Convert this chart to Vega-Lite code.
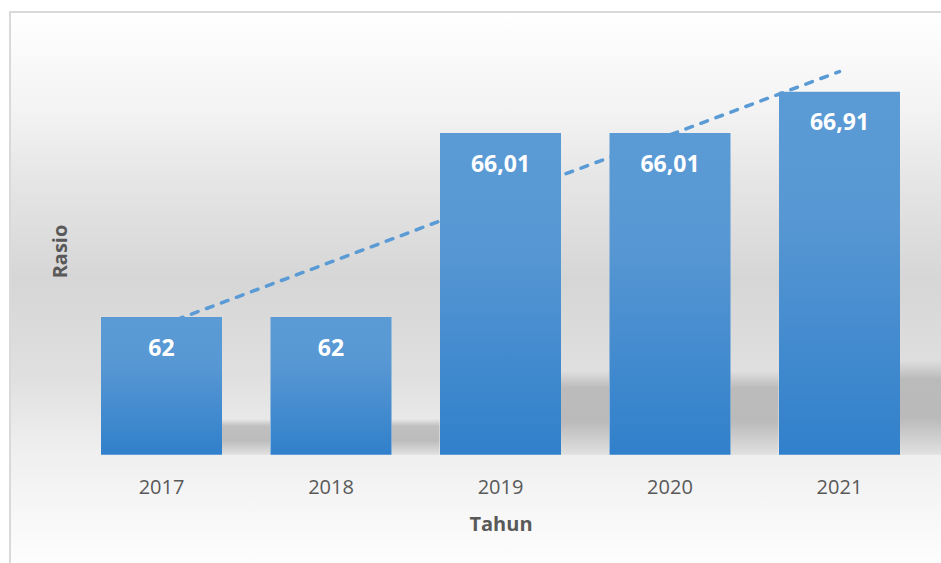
{
  "$schema": "https://vega.github.io/schema/vega-lite/v6.json",
  "width": 931,
  "height": 551,
  "autosize": {"type": "none"},
  "padding": {"left": 10, "top": 12, "right": 0, "bottom": 0},
  "background": "white",
  "config": {
    "view": {
      "stroke": "#d9d9d9", "strokeWidth": 2, "strokeDash": [931, 1482, 551, 1],
      "fill": {
        "gradient": "linear", "x1": 0, "y1": 0, "x2": 0, "y2": 1,
        "stops": [
          {"offset": 0, "color": "#ffffff"},
          {"offset": 0.18, "color": "#f3f3f3"},
          {"offset": 0.3, "color": "#e6e6e6"},
          {"offset": 0.485, "color": "#d6d6d6"},
          {"offset": 0.666, "color": "#e0e0e0"},
          {"offset": 0.786, "color": "#eeeeee"},
          {"offset": 0.907, "color": "#f7f7f7"},
          {"offset": 1, "color": "#fdfdfd"}
        ]
      }
    },
    "font": "Open Sans",
    "axisX": {
      "zindex": 1,
      "labelFont": "Open Sans", "labelFontSize": 20, "labelColor": "#595959",
      "labelPadding": 38.5, "labelBaseline": "alphabetic", "labelAngle": 0,
      "ticks": false, "domain": false, "grid": false, "offset": -108.3,
      "titleFont": "Open Sans", "titleFontSize": 20, "titleFontWeight": "bold", "titleColor": "#595959",
      "titleX": 490.5, "titleY": 75.3, "titleBaseline": "alphabetic", "titleAlign": "center"
    },
    "axisY": {
      "zindex": 1,
      "labels": false, "ticks": false, "domain": false, "grid": false,
      "titleFont": "Open Sans", "titleFontSize": 20, "titleFontWeight": "bold", "titleColor": "#595959",
      "titleX": 56.7, "titleY": 239, "titleAngle": 270, "titleBaseline": "alphabetic", "titleAlign": "center"
    }
  },
  "datasets": {
    "bars": [
      {"Tahun": "2017", "Rasio": 62, "Label": "62"},
      {"Tahun": "2018", "Rasio": 62, "Label": "62"},
      {"Tahun": "2019", "Rasio": 66.01, "Label": "66,01"},
      {"Tahun": "2020", "Rasio": 66.01, "Label": "66,01"},
      {"Tahun": "2021", "Rasio": 66.91, "Label": "66,91"}
    ],
    "trend": [
      {"Tahun": "2017", "Rasio": 61.82},
      {"Tahun": "2018", "Rasio": 63.2},
      {"Tahun": "2019", "Rasio": 64.59},
      {"Tahun": "2020", "Rasio": 65.97},
      {"Tahun": "2021", "Rasio": 67.35}
    ]
  },
  "data": {"name": "bars"},
  "layer": [
    {
      "mark": {
        "type": "bar", "width": 48, "xOffset": 84.5,
        "color": {
          "gradient": "linear", "x1": 0, "y1": 0, "x2": 0, "y2": 1,
          "stops": [
            {"offset": 0, "color": "rgba(140,140,140,0)"},
            {"offset": 0.2, "color": "rgba(140,140,140,0.45)"},
            {"offset": 0.6, "color": "rgba(140,140,140,0.5)"},
            {"offset": 1, "color": "rgba(140,140,140,0.15)"}
          ]
        }
      },
      "encoding": {
        "x": {"field": "Tahun", "type": "nominal", "scale": {"paddingInner": 0.2861, "paddingOuter": 0.3894, "align": 0.6894}},
        "y": {"field": "Rasio", "type": "quantitative", "scale": {"domain": [49.92, 96.11], "zero": false, "nice": false}, "axis": null},
        "y2": {"datum": 59}
      }
    },
    {
      "layer": [
        {
          "data": {"name": "trend"},
          "mark": {"type": "line", "color": "#5b9bd5", "strokeWidth": 3.5, "strokeDash": [7, 9], "strokeCap": "round"},
          "encoding": {
            "x": {"field": "Tahun", "type": "nominal", "scale": {"paddingInner": 0.2861, "paddingOuter": 0.3894, "align": 0.6894}},
            "y": {"field": "Rasio", "type": "quantitative", "scale": {"domain": [56.64, 68.647], "zero": false, "nice": false}}
          }
        },
        {
          "mark": {
            "type": "bar",
            "color": {
              "gradient": "linear", "x1": 0, "y1": 0, "x2": 0, "y2": 1,
              "stops": [
                {"offset": 0, "color": "#5b9bd5"},
                {"offset": 0.35, "color": "#5797d3"},
                {"offset": 1, "color": "#3180cb"}
              ]
            }
          },
          "encoding": {
            "x": {"field": "Tahun", "type": "nominal", "scale": {"paddingInner": 0.2861, "paddingOuter": 0.3894, "align": 0.6894}},
            "y": {"field": "Rasio", "type": "quantitative", "scale": {"domain": [56.64, 68.647], "zero": false, "nice": false}},
            "y2": {"datum": 59}
          }
        },
        {
          "mark": {"type": "text", "color": "white", "fontSize": 23, "fontWeight": "bold", "font": "Open Sans", "baseline": "alphabetic", "dy": 38.5},
          "encoding": {
            "x": {"field": "Tahun", "type": "nominal", "scale": {"paddingInner": 0.2861, "paddingOuter": 0.3894, "align": 0.6894}},
            "y": {"field": "Rasio", "type": "quantitative", "scale": {"domain": [56.64, 68.647], "zero": false, "nice": false}},
            "text": {"field": "Label"}
          }
        }
      ]
    }
  ],
  "resolve": {"scale": {"y": "independent"}}
}
